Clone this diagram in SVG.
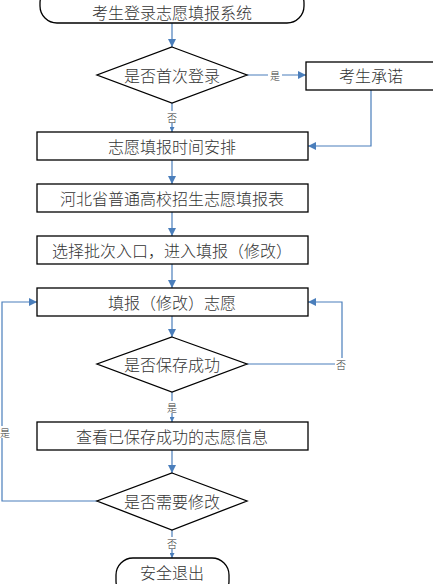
<svg xmlns="http://www.w3.org/2000/svg" width="433" height="584" viewBox="0 0 433 584">
<defs>
<marker id="ah" viewBox="0 0 10 10" refX="10" refY="5" markerWidth="10" markerHeight="8" markerUnits="userSpaceOnUse" orient="auto">
<path d="M0,0 L10,5 L0,10 z" fill="#4a7ebb"/>
</marker>
<marker id="as" viewBox="0 0 10 10" refX="10" refY="5" markerWidth="6" markerHeight="5" markerUnits="userSpaceOnUse" orient="auto">
<path d="M0,0 L10,5 L0,10 z" fill="#4a7ebb"/>
</marker>
<style>
.b{fill:#fff;stroke:#000;stroke-width:1.3}
.t{font-family:"Noto Sans CJK SC","Liberation Serif",serif;font-size:16px;font-weight:300;fill:#333;text-anchor:middle;dominant-baseline:central}
.l{font-family:"Noto Sans CJK SC","Liberation Serif",serif;font-size:10px;font-weight:300;fill:#333;text-anchor:middle;dominant-baseline:central}
.c{fill:none;stroke:#4a7ebb;stroke-width:1.2}
.lb{fill:#fff}
</style>
</defs>
<g id="connectors">
<path class="c" d="M172,23 V47" marker-end="url(#ah)"/>
<path class="c" d="M247,75 H306" marker-end="url(#ah)"/>
<path class="c" d="M371,90 V146 H308" marker-end="url(#ah)"/>
<path class="c" d="M172,103 V132" marker-end="url(#as)"/>
<path class="c" d="M172,160 V184" marker-end="url(#ah)"/>
<path class="c" d="M172,212 V236" marker-end="url(#ah)"/>
<path class="c" d="M172,264 V288" marker-end="url(#ah)"/>
<path class="c" d="M172,316 V337" marker-end="url(#ah)"/>
<path class="c" d="M247,364 H342 V302 H308" marker-end="url(#ah)"/>
<path class="c" d="M172,392 V422" marker-end="url(#as)"/>
<path class="c" d="M172,450 V473" marker-end="url(#ah)"/>
<path class="c" d="M97,501 H2 V302 H37" marker-end="url(#ah)"/>
<path class="c" d="M172,530 V558" marker-end="url(#as)"/>
<rect class="lb" x="268" y="69" width="14" height="12"/>
<text class="l" x="275" y="75">是</text>
<rect class="lb" x="166" y="111" width="12" height="12"/>
<text class="l" x="172" y="117">否</text>
<rect class="lb" x="335" y="358" width="13" height="12"/>
<text class="l" x="341" y="364">否</text>
<rect class="lb" x="166" y="401" width="12" height="12"/>
<text class="l" x="172" y="407">是</text>
<rect class="lb" x="0" y="426" width="10" height="12"/>
<text class="l" x="5" y="432">是</text>
<rect class="lb" x="166" y="537" width="12" height="12"/>
<text class="l" x="172" y="543">否</text>
</g>
<g id="start"><rect class="b" x="40" y="-14" width="264" height="37" rx="17"/><text class="t" x="172" y="12">考生登录志愿填报系统</text></g>
<g id="d1"><polygon class="b" points="172,47 247,75 172,103 97,75"/><text class="t" x="172" y="75">是否首次登录</text></g>
<g id="promise"><rect class="b" x="306" y="62" width="140" height="28"/><text class="t" x="371" y="75">考生承诺</text></g>
<g id="r2"><rect class="b" x="37" y="132" width="271" height="28"/><text class="t" x="172" y="146">志愿填报时间安排</text></g>
<g id="r3"><rect class="b" x="37" y="184" width="271" height="28"/><text class="t" x="172" y="198">河北省普通高校招生志愿填报表</text></g>
<g id="r4"><rect class="b" x="37" y="236" width="271" height="28"/><text class="t" x="172" y="250">选择批次入口，进入填报（修改）</text></g>
<g id="r5"><rect class="b" x="37" y="288" width="271" height="28"/><text class="t" x="172" y="302">填报（修改）志愿</text></g>
<g id="d2"><polygon class="b" points="172,337 247,364 172,392 97,364"/><text class="t" x="172" y="364">是否保存成功</text></g>
<g id="r6"><rect class="b" x="37" y="422" width="271" height="28"/><text class="t" x="172" y="436">查看已保存成功的志愿信息</text></g>
<g id="d3"><polygon class="b" points="172,473 247,501 172,530 97,501"/><text class="t" x="172" y="501">是否需要修改</text></g>
<g id="end"><rect class="b" x="116" y="558" width="113" height="40" rx="17"/><text class="t" x="172" y="572">安全退出</text></g>
</svg>
